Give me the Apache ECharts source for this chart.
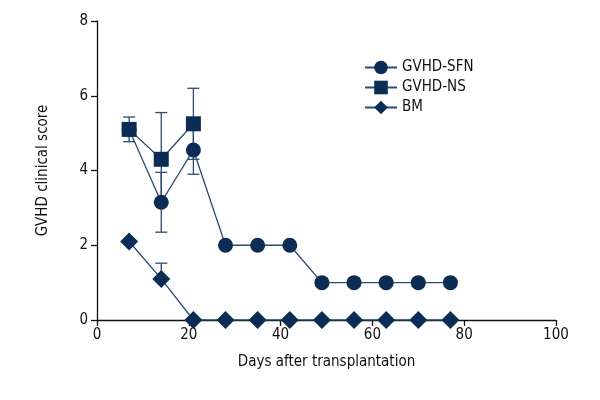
<!DOCTYPE html>
<html><head><meta charset="utf-8">
<script src="https://cdn.jsdelivr.net/npm/echarts@6/dist/echarts.min.js"></script>
<style>html,body{margin:0;padding:0;background:#fff}#c{width:600px;height:400px}</style>
</head><body><div id="c"></div>
<script>
const days = [7,14,21,28,35,42,49,56,63,70,77];
const sfn = [5.1,3.15,4.55,2,2,2,1,1,1,1,1];
const sfnErrLo = [0,0.8,0.65,0,0,0,0,0,0,0,0];
const sfnErrHi = [0,0.8,0.65,0,0,0,0,0,0,0,0];
const nsDays = [7,14,21];
const ns = [5.1,4.3,5.25];
const nsErrLo = [0.33,1.25,0.95];
const nsErrHi = [0.33,1.25,0.95];
const bm = [2.1,1.1,0,0,0,0,0,0,0,0,0];
const bmErrLo = [0,0,0,0,0,0,0,0,0,0,0];
const bmErrHi = [0,0.42,0,0,0,0,0,0,0,0,0];
const xTicks = [0,20,40,60,80,100];
const yTicks = [0,2,4,6,8];

const FONT = "'Liberation Sans Narrow','DejaVu Sans Condensed',sans-serif";
const NAVY = '#0b2d55';
const LINE = '#2b4a70';

function pairs(xs, ys){ return xs.map((x,i)=>[x, ys[i]]); }
function errData(xs, ys, lo, hi){
  return xs.map((x,i)=>[x, ys[i], ys[i]-lo[i], ys[i]+hi[i]]).filter((d,i)=>lo[i]>0||hi[i]>0);
}

function errSeries(data){
  return {
    type:'custom', silent:true, z:1,
    data:data,
    renderItem:function(params, api){
      const x = api.value(0), y = api.value(1), lo = api.value(2), hi = api.value(3);
      const pLo = api.coord([x, lo]), pHi = api.coord([x, hi]);
      const w = 6;
      const st = {stroke: LINE, lineWidth: 1.3, fill:null};
      const ch = [{type:'line', shape:{x1:pLo[0],y1:pLo[1],x2:pHi[0],y2:pHi[1]}, style:st}];
      if (lo < y) ch.push({type:'line', shape:{x1:pLo[0]-w,y1:pLo[1],x2:pLo[0]+w,y2:pLo[1]}, style:st});
      if (hi > y) ch.push({type:'line', shape:{x1:pHi[0]-w,y1:pHi[1],x2:pHi[0]+w,y2:pHi[1]}, style:st});
      return {type:'group', children:ch};
    }
  };
}

const chart = echarts.init(document.getElementById('c'));
chart.setOption({
  animation:false,
  textStyle:{fontFamily:FONT},
  grid:{left:97, right:44, top:21, bottom:80},
  legend:{
    orient:'vertical', left:359, top:55, itemGap:5, itemWidth:32, itemHeight:17,
    textStyle:{fontFamily:FONT, fontSize:15, color:'#111'},
    data:['GVHD-SFN','GVHD-NS','BM']
  },
  xAxis:{
    type:'value', min:0, max:100, interval:20,
    name:'Days after transplantation', nameLocation:'middle', nameGap:35,
    nameTextStyle:{fontFamily:FONT, fontSize:15, color:'#111'},
    axisLine:{show:true, lineStyle:{color:'#111', width:1.3}},
    axisTick:{show:true, length:6, lineStyle:{color:'#111', width:1.3}},
    axisLabel:{fontFamily:FONT, fontSize:15, color:'#111', margin:8},
    splitLine:{show:false}
  },
  yAxis:{
    type:'value', min:0, max:8, interval:2,
    name:'GVHD clinical score', nameLocation:'middle', nameGap:46,
    nameTextStyle:{fontFamily:FONT, fontSize:15, color:'#111'},
    axisLine:{show:true, lineStyle:{color:'#111', width:1.3}},
    axisTick:{show:true, length:6, lineStyle:{color:'#111', width:1.3}},
    axisLabel:{fontFamily:FONT, fontSize:15, color:'#111', margin:9},
    splitLine:{show:false}
  },
  series:[
    errSeries(errData(days, sfn, sfnErrLo, sfnErrHi)),
    errSeries(errData(nsDays, ns, nsErrLo, nsErrHi)),
    errSeries(errData(days, bm, bmErrLo, bmErrHi)),
    {name:'GVHD-SFN', type:'line', data:pairs(days, sfn), symbol:'circle', symbolSize:15,
     lineStyle:{color:LINE, width:1.3}, itemStyle:{color:NAVY}, z:3},
    {name:'GVHD-NS', type:'line', data:pairs(nsDays, ns), symbol:'rect', symbolSize:15,
     lineStyle:{color:LINE, width:1.3}, itemStyle:{color:NAVY}, z:4},
    {name:'BM', type:'line', data:pairs(days, bm), symbol:'diamond', symbolSize:[18,18],
     lineStyle:{color:LINE, width:1.3}, itemStyle:{color:NAVY}, z:3}
  ]
});
</script></body></html>
